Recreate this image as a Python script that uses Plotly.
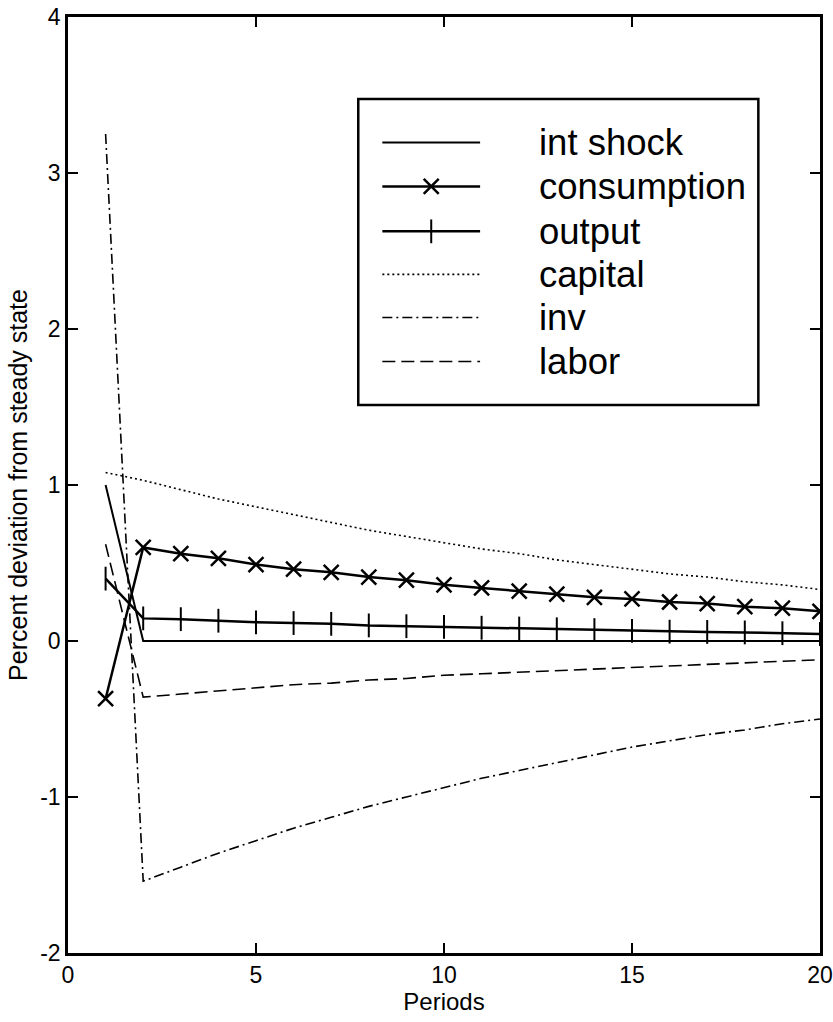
import plotly.graph_objects as go

periods = list(range(1, 21))

int_shock = [1.0] + [0.0] * 19
consumption = [-0.37, 0.60, 0.56, 0.53, 0.49, 0.46, 0.44, 0.41, 0.39, 0.36,
               0.34, 0.32, 0.30, 0.28, 0.27, 0.25, 0.24, 0.22, 0.21, 0.19]
output = [0.40, 0.145, 0.14, 0.13, 0.12, 0.115, 0.11, 0.10, 0.095, 0.09,
          0.085, 0.08, 0.075, 0.07, 0.065, 0.06, 0.058, 0.055, 0.05, 0.045]
capital = [1.08, 1.03, 0.97, 0.91, 0.86, 0.81, 0.76, 0.71, 0.67, 0.63,
           0.59, 0.56, 0.52, 0.49, 0.46, 0.43, 0.41, 0.38, 0.36, 0.33]
inv = [3.25, -1.54, -1.45, -1.36, -1.28, -1.20, -1.13, -1.06, -1.00, -0.94,
       -0.88, -0.83, -0.78, -0.73, -0.68, -0.64, -0.60, -0.57, -0.53, -0.50]
labor = [0.62, -0.36, -0.34, -0.32, -0.30, -0.28, -0.27, -0.25, -0.24, -0.22,
         -0.21, -0.20, -0.19, -0.18, -0.17, -0.16, -0.15, -0.14, -0.13, -0.12]

series_names = ["int shock", "consumption", "output", "capital", "inv", "labor"]
x_ticks = [0, 5, 10, 15, 20]
y_ticks = [-2, -1, 0, 1, 2, 3, 4]

FONT = "Liberation Sans, Arial, sans-serif"

styles = {
    "int shock": dict(line=dict(color="black", width=2), mode="lines", marker=None),
    "consumption": dict(line=dict(color="black", width=2.5), mode="lines+markers",
                        marker=dict(symbol="x-thin-open", size=15, color="black",
                                    line=dict(color="black", width=2.5))),
    "output": dict(line=dict(color="black", width=2.5), mode="lines+markers",
                   marker=dict(symbol="line-ns-open", size=17, color="black",
                               line=dict(color="black", width=2))),
    "capital": dict(line=dict(color="black", width=1.6, dash="2px,3px"), mode="lines", marker=None),
    "inv": dict(line=dict(color="black", width=1.6, dash="10px,4px,2px,4px"), mode="lines", marker=None),
    "labor": dict(line=dict(color="black", width=1.6, dash="13px,6px"), mode="lines", marker=None),
}
data = {"int shock": int_shock, "consumption": consumption, "output": output,
        "capital": capital, "inv": inv, "labor": labor}

fig = go.Figure()
for name in series_names:
    st = styles[name]
    kw = dict(x=periods, y=data[name], name=name, mode=st["mode"], line=st["line"],
              showlegend=False)
    if st["marker"] is not None:
        kw["marker"] = st["marker"]
    fig.add_trace(go.Scatter(**kw))

# custom legend (overlay axes in unit coordinates)
leg_x0, leg_x1 = 0.3860, 0.9180
leg_y0, leg_y1 = 0.5855, 0.9124
samp_x0, samp_x1 = 0.4180, 0.5480
text_x = 0.624
row_y = [0.8660, 0.8190, 0.7710, 0.7250, 0.6790, 0.6320]

for name, yy in zip(series_names, row_y):
    st = styles[name]
    fig.add_trace(go.Scatter(x=[samp_x0, samp_x1], y=[yy, yy], mode="lines",
                             line=st["line"], xaxis="x2", yaxis="y2",
                             showlegend=False, hoverinfo="skip"))
    if st["marker"] is not None:
        fig.add_trace(go.Scatter(x=[(samp_x0 + samp_x1) / 2], y=[yy], mode="markers",
                                 marker=st["marker"], xaxis="x2", yaxis="y2",
                                 showlegend=False, hoverinfo="skip"))
    fig.add_annotation(x=text_x, y=yy, xref="x2", yref="y2", text=name,
                       showarrow=False, xanchor="left", yanchor="middle",
                       font=dict(family=FONT, size=36.5, color="black"))

fig.add_shape(type="rect", xref="x2", yref="y2", x0=leg_x0, x1=leg_x1,
              y0=leg_y0, y1=leg_y1, line=dict(color="black", width=2.5),
              fillcolor="rgba(0,0,0,0)")

axis_common = dict(showgrid=False, zeroline=False, showline=True, linecolor="black",
                   linewidth=2.5, mirror="ticks", ticks="inside", ticklen=10,
                   tickwidth=2, tickcolor="black", automargin=False,
                   ticklabeloverflow="allow",
                   tickfont=dict(family=FONT, size=23, color="black"))

fig.update_layout(
    width=833, height=1022,
    margin=dict(l=68, r=13, t=17, b=69),
    paper_bgcolor="white", plot_bgcolor="white",
    xaxis=dict(range=[0, 20], tickvals=x_ticks, ticktext=[str(v) for v in x_ticks],
               title=dict(text="Periods", font=dict(family=FONT, size=24, color="black"),
                          standoff=2),
               **axis_common),
    yaxis=dict(range=[-2, 4], tickvals=y_ticks, ticktext=[str(v) for v in y_ticks],
               title=dict(text="Percent deviation from steady state",
                          font=dict(family=FONT, size=25, color="black"), standoff=6),
               **axis_common),
    xaxis2=dict(range=[0, 1], overlaying="x", visible=False, anchor="y2"),
    yaxis2=dict(range=[0, 1], overlaying="y", visible=False, anchor="x2"),
    showlegend=False,
)

fig.write_html("out.html")
